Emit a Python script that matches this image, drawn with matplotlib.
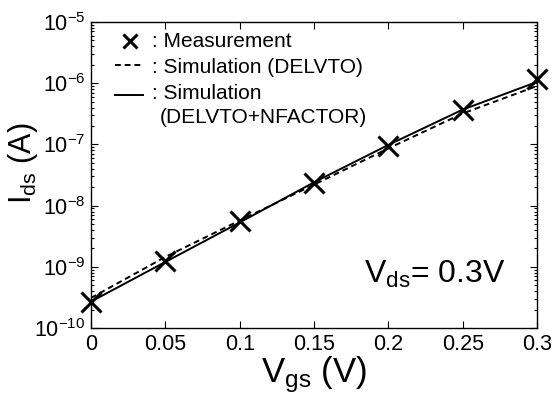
import numpy as np
import matplotlib.pyplot as plt
from matplotlib.lines import Line2D

plt.rcParams['font.family'] = ['Liberation Sans', 'DejaVu Sans']
plt.rcParams['mathtext.fontset'] = 'custom'
plt.rcParams['mathtext.rm'] = 'Liberation Sans'
plt.rcParams['mathtext.it'] = 'Liberation Sans:italic'
plt.rcParams['mathtext.bf'] = 'Liberation Sans:bold'

vgs = [0.0, 0.05, 0.10, 0.15, 0.20, 0.25, 0.30]
ids_meas = [2.7e-10, 1.24e-9, 5.5e-9, 2.3e-8, 9.5e-8, 3.7e-7, 1.16e-6]
ids_delvto = [3.1e-10, 1.45e-9, 5.7e-9, 2.2e-8, 8.6e-8, 3.2e-7, 9.0e-7]
ids_nfactor = [2.7e-10, 1.2e-9, 5.3e-9, 2.4e-8, 9.8e-8, 3.7e-7, 1.05e-6]
xtick_labels = ["0", "0.05", "0.1", "0.15", "0.2", "0.25", "0.3"]

fig = plt.figure(figsize=(5.54, 3.94), dpi=100)
ax = fig.add_axes([91 / 554, 1 - 328 / 394, (537 - 91) / 554, (328 - 22) / 394])

ax.plot(vgs, ids_delvto, "k--", lw=1.4, dashes=(3, 2))
ax.plot(vgs, ids_nfactor, "k-", lw=1.4)
ax.plot(vgs, ids_meas, "kx", ms=14, mew=2.2, ls="none", clip_on=False, zorder=5)

ax.set_yscale("log")
ax.set_xlim(0, 0.3)
ax.set_ylim(1e-10, 1e-5)
ax.set_xticks(vgs)
ax.set_xticklabels(xtick_labels)
ax.set_yticks([1e-10, 1e-9, 1e-8, 1e-7, 1e-6, 1e-5])
ax.tick_params(which="both", direction="in", top=True, right=True, labelsize=15.5)
ax.tick_params(which="major", length=5, width=0.8, pad=4)
ax.tick_params(which="minor", length=2.5, width=0.8)
for s in ax.spines.values():
    s.set_linewidth(1.0)

ax.set_xlabel(r"V$_{\mathregular{gs}}$ (V)", fontsize=25, labelpad=0)
ax.set_ylabel(r"I$_{\mathregular{ds}}$ (A)", fontsize=22)
ax.yaxis.set_label_coords(-0.115, 0.54)

# legend drawn as plain text lines
ax.add_line(Line2D([0.087], [0.938], transform=ax.transAxes, marker="x",
                   color="k", ms=10, mew=2.2))
ax.add_line(Line2D([0.054, 0.117], [0.858, 0.858], transform=ax.transAxes,
                   color="k", ls="--", dashes=(3, 2), lw=1.4))
ax.add_line(Line2D([0.054, 0.117], [0.762, 0.762], transform=ax.transAxes,
                   color="k", lw=1.4))
ax.text(0.137, 0.935, ": Measurement", transform=ax.transAxes, fontsize=15,
        va="center")
ax.text(0.137, 0.85, ": Simulation (DELVTO)", transform=ax.transAxes,
        fontsize=15, va="center")
ax.text(0.137, 0.765, ": Simulation", transform=ax.transAxes, fontsize=15,
        va="center")
ax.text(0.155, 0.688, "(DELVTO+NFACTOR)", transform=ax.transAxes,
        fontsize=15, va="center")

ax.text(0.613, 0.175, r"V$_{\mathregular{ds}}$= 0.3V", transform=ax.transAxes,
        fontsize=23, va="center")

fig.savefig("out.png", dpi=100)
